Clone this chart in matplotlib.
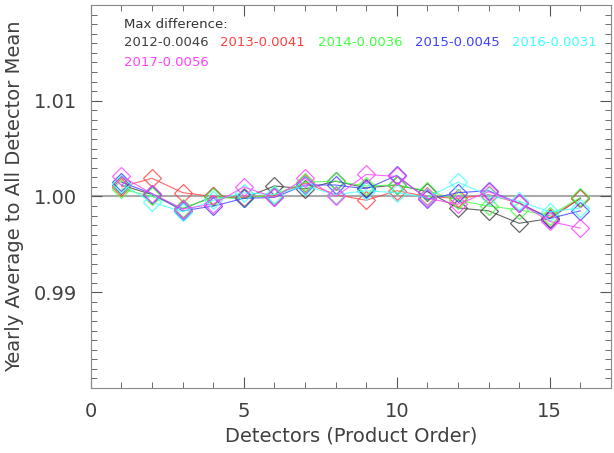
import matplotlib
matplotlib.use("Agg")
import matplotlib.pyplot as plt
import numpy as np
from matplotlib.ticker import MultipleLocator

detectors = np.arange(1, 17)

# yearly averages relative to all-detector mean
y2012 = [1.0012, 1.0002, 0.9987, 1.0000, 0.9998, 1.0011, 1.0008, 1.0016, 1.0009, 1.0012,
         1.0005, 0.9988, 0.9985, 0.9972, 0.9977, 0.9998]
y2013 = [1.0010, 1.0019, 1.0004, 1.0000, 0.9999, 1.0001, 1.0014, 1.0002, 0.9996, 1.0006,
         1.0000, 0.9998, 1.0002, 0.9993, 0.9978, 0.9998]
y2014 = [1.0008, 1.0000, 0.9988, 0.9999, 0.9998, 1.0002, 1.0015, 1.0016, 1.0011, 1.0012,
         1.0006, 0.9996, 0.9990, 0.9986, 0.9980, 0.9999]
y2015 = [1.0015, 1.0003, 0.9985, 0.9990, 0.9998, 0.9999, 1.0012, 1.0012, 1.0008, 1.0022,
         0.9997, 1.0004, 1.0006, 0.9993, 0.9977, 0.9985]
y2016 = [1.0013, 0.9994, 0.9984, 0.9996, 1.0004, 1.0002, 1.0011, 1.0002, 1.0006, 1.0004,
         0.9999, 1.0015, 1.0001, 0.9995, 0.9984, 0.9988]
y2017 = [1.0021, 1.0003, 0.9987, 0.9992, 1.0010, 0.9999, 1.0019, 1.0000, 1.0023, 1.0021,
         0.9998, 0.9992, 1.0005, 0.9993, 0.9974, 0.9967]

years = ["2012", "2013", "2014", "2015", "2016", "2017"]
max_diffs = ["0.0046", "0.0041", "0.0036", "0.0045", "0.0031", "0.0056"]
series = [y2012, y2013, y2014, y2015, y2016, y2017]
colors = ["#404040", "#ff4040", "#40ff40", "#4040ff", "#40ffff", "#ff40ff"]

fig = plt.figure(figsize=(6.14, 4.53), dpi=100)
ax = fig.add_axes([0.148, 0.1435, 0.847, 0.8455])

ax.axhline(1.0, color="#aaaaaa", lw=1.5, zorder=1)
for ys, c in zip(series, colors):
    ax.plot(detectors, ys, color=c, lw=0.8, alpha=0.8, marker="D", markersize=9.5,
            markerfacecolor="none", markeredgecolor=c, markeredgewidth=0.9, zorder=2)

ax.set_xlim(0, 17)
ax.set_ylim(0.98, 1.02)
ax.xaxis.set_major_locator(MultipleLocator(5))
ax.xaxis.set_minor_locator(MultipleLocator(1))
ax.set_yticks([0.99, 1.00, 1.01])
ax.yaxis.set_minor_locator(MultipleLocator(0.001))
ax.yaxis.set_major_formatter(lambda v, p: f"{v:.2f}")
ax.tick_params(which="both", direction="in", top=True, right=True, color="#555555")
ax.tick_params(which="major", length=8, labelsize=14, labelcolor="#404040", pad=10)
ax.tick_params(which="minor", length=4)
for s in ax.spines.values():
    s.set_color("#888888")

ax.set_xlabel("Detectors (Product Order)", fontsize=14, color="#404040", labelpad=4)
ax.set_ylabel("Yearly Average to All Detector Mean", fontsize=14, color="#404040", labelpad=7)

ax.text(0.063, 0.948, "Max difference:", transform=ax.transAxes, fontsize=9.5,
        color="#333333", va="center")
xpos = [0.063, 0.248, 0.437, 0.623, 0.81, 0.063]
ypos = [0.901, 0.901, 0.901, 0.901, 0.901, 0.849]
for yr, d, c, xp, yp in zip(years, max_diffs, colors, xpos, ypos):
    ax.text(xp, yp, f"{yr}-{d}", transform=ax.transAxes, fontsize=9.5, color=c, va="center")

fig.savefig("out.png", dpi=100)
